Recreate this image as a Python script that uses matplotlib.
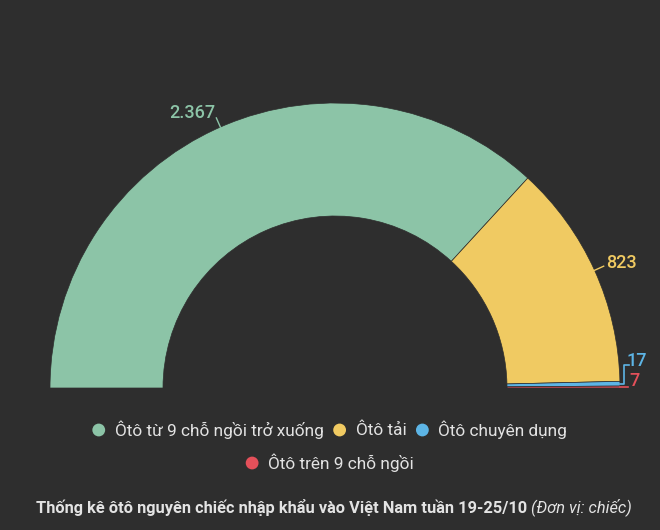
import matplotlib
matplotlib.use('Agg')
import matplotlib.pyplot as plt
import numpy as np

# dữ liệu
categories = ['Ôtô từ 9 chỗ ngồi trở xuống', 'Ôtô tải', 'Ôtô chuyên dụng', 'Ôtô trên 9 chỗ ngồi']
values = [2367, 823, 17, 7]
value_labels = ['2.367', '823', '17', '7']
colors = ['#8cc4a7', '#f0ca62', '#5db5e6', '#e4505a']

title_main = 'Thống kê ôtô nguyên chiếc nhập khẩu vào Việt Nam tuần 19-25/10 '
title_unit = '(Đơn vị: chiếc)'

BG = '#2e2e2e'
TXT = '#e3e3e3'
W, H = 660, 530
CX, CY = 335, H - 388
R_OUT, R_IN = 285, 172

plt.rcParams['font.family'] = ['Roboto', 'DejaVu Sans']

fig = plt.figure(figsize=(W / 100, H / 100), dpi=100, facecolor=BG)
ax = fig.add_axes([0, 0, 1, 1])
ax.set_facecolor(BG)

# nửa vòng: thêm phần ẩn bằng tổng
total = sum(values)
wedges, _ = ax.pie(values + [total], colors=colors + [BG], startangle=180,
                   counterclock=False, radius=R_OUT, center=(CX, CY),
                   wedgeprops=dict(width=R_OUT - R_IN, edgecolor=BG, linewidth=0.5))
wedges[-1].set_visible(False)

ax.set_xlim(0, W)
ax.set_ylim(0, H)
ax.set_aspect('equal')
ax.axis('off')

# nhãn giá trị
for i, w in enumerate(wedges[:-1]):
    mid = np.deg2rad((w.theta1 + w.theta2) / 2)
    x0 = CX + R_OUT * np.cos(mid)
    y0 = CY + R_OUT * np.sin(mid)
    span = abs(w.theta2 - w.theta1)
    if span > 5:
        x1 = CX + (R_OUT + 10) * np.cos(mid)
        y1 = CY + (R_OUT + 10) * np.sin(mid)
        xt = CX + (R_OUT + 13) * np.cos(mid)
        yt = CY + (R_OUT + 13) * np.sin(mid) + 2
        ax.plot([x0, x1], [y0, y1], color=colors[i], lw=1)
        ax.text(xt, yt, value_labels[i], color=colors[i], fontsize=13,
                fontweight='medium', ha='right' if xt < CX else 'left', va='center')
    else:
        # nhãn nhỏ xếp chồng bên phải
        k = len(values) - 1 - i
        ly = y0 + 19 * k
        ex = CX + R_OUT + 6 - 2 * k
        if k == 0:
            ax.plot([x0, ex + 2], [y0, y0], color=colors[i], lw=1.2)
            ax.text(ex + 3, y0 + 6, value_labels[i], color=colors[i],
                    fontsize=13, fontweight='medium', ha='left', va='center')
        else:
            ax.plot([x0, ex, ex, ex + 5], [y0, y0, ly, ly], color=colors[i], lw=1.2)
            ax.text(ex + 3, ly + 4, value_labels[i], color=colors[i],
                    fontsize=13, fontweight='medium', ha='left', va='center')

# chú thích
renderer = fig.canvas.get_renderer()
rows = [[0, 1, 2], [3]]
row_y = [H - 430, H - 463]
dot_r = 6
gap_dot = 10
gap_item = 10
for row, ry in zip(rows, row_y):
    texts = []
    for idx in row:
        t = ax.text(0, ry, categories[idx], color=TXT, fontsize=12.4,
                    ha='left', va='center')
        texts.append(t)
    widths = [t.get_window_extent(renderer).width for t in texts]
    total_w = sum(2 * dot_r + gap_dot + w for w in widths) + gap_item * (len(row) - 1)
    x = W / 2 - total_w / 2
    for idx, t, w in zip(row, texts, widths):
        ax.scatter([x + dot_r], [ry], s=85, color=colors[idx], edgecolors='none')
        t.set_x(x + 2 * dot_r + gap_dot)
        x += 2 * dot_r + gap_dot + w + gap_item

# tiêu đề
t1 = ax.text(0, H - 507, title_main, color=TXT, fontsize=11.8,
             fontweight='bold', ha='left', va='center')
t2 = ax.text(0, H - 507, title_unit, color=TXT, fontsize=11.8,
             fontstyle='italic', ha='left', va='center')
w1 = t1.get_window_extent(renderer).width
w2 = t2.get_window_extent(renderer).width
x = W / 2 + 4 - (w1 + w2) / 2
t1.set_x(x)
t2.set_x(x + w1)

fig.savefig('out.png', dpi=100, facecolor=BG)
